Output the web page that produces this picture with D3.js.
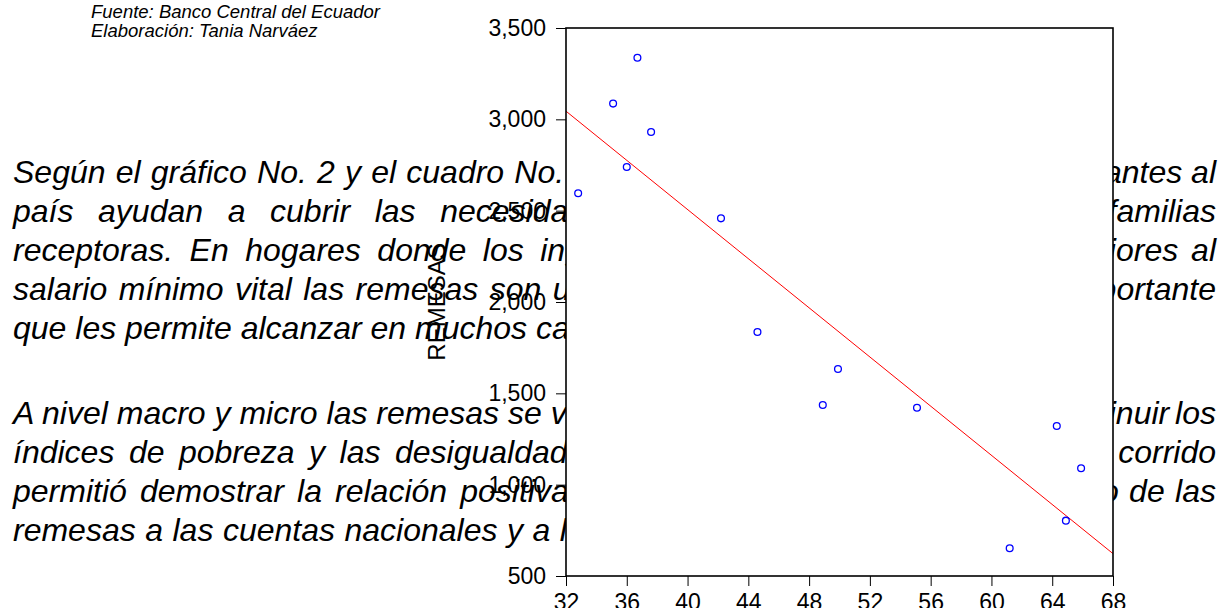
<!DOCTYPE html>
<html>
<head>
<meta charset="utf-8">
<script src="https://cdn.jsdelivr.net/npm/d3@7"></script>
<style>
  html, body { margin: 0; padding: 0; background: #fff; }
  svg { display: block; }
  .parrafo { font-family: "Liberation Sans", Arial, sans-serif; font-style: italic; font-size: 32px; fill: #000; }
  .nota { font-family: "Liberation Sans", Arial, sans-serif; font-style: italic; font-size: 18.5px; fill: #000; }
  .eje text { font-family: "Liberation Sans", Arial, sans-serif; font-size: 23px; fill: #000; }
  .eje line { stroke: #000; stroke-width: 1; }
</style>
</head>
<body>
<div id="grafico"></div>
<script>
// Datos (dispersión pobreza vs remesas)
const pobreza = [32.8, 35.1, 36.0, 36.7, 37.6, 42.2, 44.6, 48.9, 49.9, 55.1, 61.2, 64.3, 64.9, 65.9];
const remesas = [2595, 3086, 2739, 3337, 2931, 2458, 1836, 1436, 1633, 1421, 652, 1321, 803, 1090];
const xTicks  = [32, 36, 40, 44, 48, 52, 56, 60, 64, 68];
const yTicks  = [500, 1000, 1500, 2000, 2500, 3000, 3500];
const tituloY = 'REMESAS';

// Textos del documento
const notas = ['Fuente: Banco Central del Ecuador', 'Elaboración: Tania Narváez'];
const lineasIzq = [
  'Según el gráfico No. 2 y el cuadro No. 3 las remesas de los',
  'país ayudan a cubrir las necesidades básicas de',
  'receptoras. En hogares donde los ingresos son',
  'salario mínimo vital las remesas son un ingreso',
  'que les permite alcanzar en muchos casos la canasta',
  'A nivel macro y micro las remesas se ven como un',
  'índices de pobreza y las desigualdades, el análisis',
  'permitió demostrar la relación positiva del aporte',
  'remesas a las cuentas nacionales y a la economía.'
];
const lineasDer = [
  'migrantes al',
  'las familias',
  'inferiores al',
  'importante',
  '',
  'disminuir los',
  'análisis corrido',
  'impacto de las',
  ''
];

// Maquetación
const W = 1224, H = 608;
const plot = { left: 566, right: 1113, top: 28, bottom: 576 };
const baseY   = [183, 222, 261, 300, 339, 424, 463, 502, 541];
const espIzq  = [1.3, 15.7, 7.6, 2.5, 0, 0, 5.6, 4.2, 0.6];
const espDer  = [0, 0, 4, 0, 0, -3, 0, 1.5, 0];

const svg = d3.select('#grafico').append('svg')
  .attr('width', W).attr('height', H);

// Notas superiores
svg.selectAll('text.nota')
  .data(notas)
  .enter().append('text')
    .attr('class', 'nota')
    .attr('x', 91)
    .attr('y', (_, i) => 18 + i * 19)
    .text(d => d);

// Párrafos (quedan tapados por el área del gráfico)
svg.selectAll('text.izq')
  .data(lineasIzq)
  .enter().append('text')
    .attr('class', 'parrafo izq')
    .attr('x', 13)
    .attr('y', (_, i) => baseY[i])
    .style('word-spacing', (_, i) => espIzq[i] + 'px')
    .text(d => d);

svg.selectAll('text.der')
  .data(lineasDer)
  .enter().append('text')
    .attr('class', 'parrafo der')
    .attr('x', 1216)
    .attr('y', (_, i) => baseY[i])
    .attr('text-anchor', 'end')
    .style('word-spacing', (_, i) => espDer[i] + 'px')
    .text(d => d);

// Escalas
const x = d3.scaleLinear().domain([32, 68]).range([plot.left, plot.right]);
const y = d3.scaleLinear().domain([500, 3500]).range([plot.bottom, plot.top]);

// Fondo blanco del gráfico
svg.append('rect')
  .attr('x', plot.left).attr('y', plot.top)
  .attr('width', plot.right - plot.left)
  .attr('height', plot.bottom - plot.top)
  .attr('fill', '#fff');

svg.append('clipPath').attr('id', 'recorte')
  .append('rect')
    .attr('x', plot.left).attr('y', plot.top)
    .attr('width', plot.right - plot.left)
    .attr('height', plot.bottom - plot.top);

// Ejes
const ejeY = svg.append('g')
  .attr('class', 'eje')
  .attr('transform', `translate(${plot.left},0)`)
  .call(d3.axisLeft(y).tickValues(yTicks).tickFormat(d3.format(',')).tickSize(10).tickPadding(10));
ejeY.select('.domain').remove();
ejeY.attr('font-size', null).attr('font-family', null);

const ejeX = svg.append('g')
  .attr('class', 'eje')
  .attr('transform', `translate(0,${plot.bottom})`)
  .call(d3.axisBottom(x).tickValues(xTicks).tickSize(10).tickPadding(8));
ejeX.select('.domain').remove();
ejeX.attr('font-size', null).attr('font-family', null);

// Título eje Y
svg.append('text')
  .attr('transform', `translate(445,${(plot.top + plot.bottom) / 2}) rotate(-90)`)
  .attr('text-anchor', 'middle')
  .style('font-family', '"Liberation Sans", Arial, sans-serif')
  .style('font-size', '24px')
  .text(tituloY);

// Recta de regresión (mínimos cuadrados)
const mx = d3.mean(pobreza), my = d3.mean(remesas);
const pend = d3.sum(pobreza, (v, i) => (v - mx) * (remesas[i] - my)) / d3.sum(pobreza, v => (v - mx) ** 2);
const corte = my - pend * mx;
const recta = d3.line().x(d => x(d)).y(d => y(corte + pend * d));
svg.append('path')
  .attr('clip-path', 'url(#recorte)')
  .attr('d', recta(x.domain()))
  .attr('fill', 'none')
  .attr('stroke', '#ff0000')
  .attr('stroke-width', 1);

// Puntos
svg.append('g')
  .selectAll('circle')
  .data(pobreza)
  .enter().append('circle')
    .attr('cx', d => x(d))
    .attr('cy', (_, i) => y(remesas[i]))
    .attr('r', 3.4)
    .attr('fill', 'none')
    .attr('stroke', '#0000ff')
    .attr('stroke-width', 1.3);

// Marco
svg.append('rect')
  .attr('x', plot.left).attr('y', plot.top)
  .attr('width', plot.right - plot.left)
  .attr('height', plot.bottom - plot.top)
  .attr('fill', 'none')
  .attr('stroke', '#000')
  .attr('stroke-width', 1.6);
</script>
</body>
</html>
